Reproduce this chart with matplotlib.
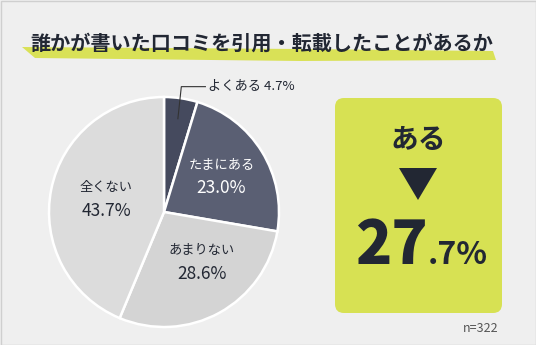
import numpy as np
import matplotlib.pyplot as plt
from matplotlib.patches import FancyBboxPatch, Polygon, Rectangle

plt.rcParams['font.family'] = ['Noto Sans CJK JP', 'DejaVu Sans']

title = '誰かが書いた口コミを引用・転載したことがあるか'
labels = ['よくある', 'たまにある', 'あまりない', '全くない']
values = [4.7, 23.0, 28.6, 43.7]
colors = ['#454a5e', '#5a5f73', '#d4d4d4', '#dcdcdc']
text_colors = ['#222733', '#ffffff', '#222733', '#222733']
# label anchors in pie units (first slice gets an outside label)
label_pos = [None, (0.50, 0.31), (0.33, -0.435), (-0.50, 0.11)]
n_total = 322

W, H = 536, 345
fig = plt.figure(figsize=(W / 100, H / 100), dpi=100)
fig.patch.set_facecolor('#efefef')

# overlay axes in pixel units (y down)
bg = fig.add_axes([0, 0, 1, 1])
bg.set_xlim(0, W)
bg.set_ylim(H, 0)
bg.axis('off')
bg.add_patch(Rectangle((0.5, 0.5), W - 1, H - 1, fill=False, ec='#cfcfcf', lw=1))

# brush highlight under the title
bg.add_patch(Polygon([(22, 47), (300, 49), (493, 51), (496, 60), (300, 61), (35, 58)],
                     closed=True, fc='#d6df3c', ec='none', alpha=0.85))
bg.text(W / 2 - 6, 43, title, ha='center', va='center', fontsize=14.5,
        fontweight='bold', color='#222733')

# pie
cx, cy, r = 164, 212, 115
pad = 5
pie_ax = fig.add_axes([(cx - r - pad) / W, 1 - (cy + r + pad) / H,
                       (2 * r + 2 * pad) / W, (2 * r + 2 * pad) / H])
wedges, _ = pie_ax.pie(values, colors=colors, startangle=90, counterclock=False,
                       radius=1.0, wedgeprops=dict(edgecolor='white', linewidth=1.8))
lim = (r + pad) / r
pie_ax.set_xlim(-lim, lim)
pie_ax.set_ylim(-lim, lim)
pie_ax.set_aspect('equal')
pie_ax.axis('off')

for i, w in enumerate(wedges):
    if label_pos[i] is None:
        # small slice: leader line to an outside label
        theta = np.deg2rad((w.theta1 + w.theta2) / 2)
        x0, y0 = 0.82 * np.cos(theta), 0.82 * np.sin(theta)
        pie_ax.plot([x0, x0 + 0.03, 0.36], [y0, 1.09, 1.09], color='#333333', lw=0.8,
                    clip_on=False)
        pie_ax.text(0.38, 1.09, f'{labels[i]} {values[i]:.1f}%', ha='left', va='center',
                    fontsize=9.5, color='#222733', clip_on=False)
        continue
    x, y = label_pos[i]
    pie_ax.text(x, y + 0.1, labels[i], ha='center', va='center', fontsize=9.5,
                color=text_colors[i])
    pie_ax.text(x, y - 0.1, f'{values[i]:.1f}%', ha='center', va='center', fontsize=12.5,
                color=text_colors[i])

# summary box
bg.add_patch(FancyBboxPatch((335, 98), 167, 215, boxstyle='round,pad=0,rounding_size=9',
                            fc='#d7e153', ec='none'))
bg.text(418, 140, 'ある', ha='center', va='center', fontsize=20, fontweight='bold',
        color='#222733')
bg.add_patch(Polygon([(399, 168), (437, 168), (418, 200)], closed=True, fc='#222733', ec='none'))

total = values[0] + values[1]
whole, frac = f'{total:.1f}'.split('.')
bg.text(428, 264, whole, ha='right', va='baseline', fontsize=43, fontweight='heavy',
        color='#222733')
bg.text(428, 264, f'.{frac}%', ha='left', va='baseline', fontsize=23, fontweight='bold',
        color='#222733')

bg.text(499, 328, f'n={n_total}', ha='right', va='center', fontsize=9, color='#555555')

fig.savefig('out.png', dpi=100, facecolor=fig.get_facecolor())
